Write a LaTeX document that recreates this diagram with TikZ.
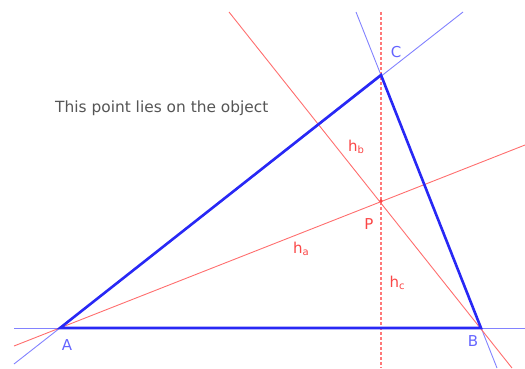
\documentclass[tikz,border=0pt]{standalone}
\usepackage{fontspec}
\setmainfont{DejaVu Sans}
\definecolor{thickblue}{RGB}{40,40,245}
\definecolor{thinblue}{RGB}{130,130,255}
\definecolor{lblblue}{RGB}{100,100,255}
\definecolor{altred}{RGB}{255,110,110}
\definecolor{dotred}{RGB}{255,120,120}
\definecolor{lblred}{RGB}{250,70,70}
\definecolor{txtgray}{RGB}{85,85,85}
\newcommand{\hsub}[1]{h\raisebox{-1.5pt}{\fontsize{10}{10}\selectfont #1}}
\tikzset{
  side/.style={draw=thickblue, line width=2.6pt, line cap=round},
  extline/.style={draw=thinblue, line width=0.9pt},
  alt/.style={draw=altred, line width=0.9pt},
  altdot/.style={draw=dotred, line width=1.1pt, dash pattern=on 3pt off 2pt},
  bluelbl/.style={text=lblblue, font=\fontsize{15}{15}\selectfont, inner sep=0pt},
  redlbl/.style={text=lblred, font=\fontsize{15}{15}\selectfont, inner sep=0pt},
}
\begin{document}
\begin{tikzpicture}[x=1pt,y=-1pt]
\useasboundingbox (0,0) rectangle (525,368);
% vertices
\coordinate (A) at (60,328);
\coordinate (B) at (481,328);
\coordinate (C) at (381,75);
\coordinate (P) at (381,201);
% line ends
\coordinate (ABl) at (14,328);
\coordinate (ABr) at (525,328);
\coordinate (ACl) at (14,364);
\coordinate (ACr) at (463,12);
\coordinate (BCt) at (356,12);
\coordinate (BCb) at (497,368);
\coordinate (hct) at (381,12);
\coordinate (hcb) at (381,368);
\coordinate (hbt) at (229,12);
\coordinate (hbb) at (512,368);
\coordinate (hal) at (14,346);
\coordinate (har) at (525,145);
% extended lines
\draw[extline] (ABl) -- (ABr);
\draw[extline] (ACl) -- (ACr);
\draw[extline] (BCt) -- (BCb);
% altitudes
\draw[altdot] (hct) -- (hcb);
\draw[alt] (hbt) -- (hbb);
\draw[alt] (hal) -- (har);
% triangle
\draw[side] (A) -- (B) -- (C) -- cycle;
\fill[lblred] (P) circle (1.8pt);
% labels
\node[bluelbl] (lA) at (67,345) {A};
\node[bluelbl] (lB) at (473,341) {B};
\node[bluelbl] (lC) at (396,52) {C};
\node[redlbl] (lP) at (369,224) {P};
\node[redlbl] (lha) at (301,249) {\hsub{a}};
\node[redlbl] (lhb) at (356,147) {\hsub{b}};
\node[redlbl] (lhc) at (397,283) {\hsub{c}};
\node[text=txtgray, font=\fontsize{15.4}{16}\selectfont, inner sep=0pt, anchor=base west] (note) at (55,112) {This point lies on the object};
\end{tikzpicture}
\end{document}
